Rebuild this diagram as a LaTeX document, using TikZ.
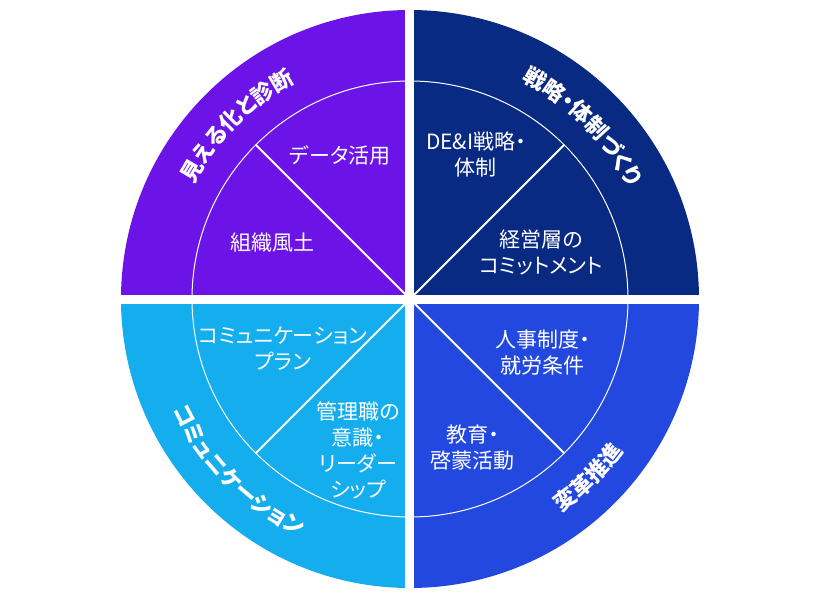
\documentclass[tikz,border=0pt]{standalone}
\usepackage{fontspec}
\usepackage{xcolor}
\usepackage{tikz}
\usetikzlibrary{decorations.text}
\newfontfamily\jpfont[RawFeature=+palt]{Noto Sans CJK JP}
\definecolor{qpurple}{RGB}{108,20,232}
\definecolor{qnavy}{RGB}{8,42,130}
\definecolor{qcyan}{RGB}{20,174,238}
\definecolor{qblue}{RGB}{34,72,224}

\begin{document}
\begin{tikzpicture}[x=1pt,y=1pt,
      item/.style={text=white,align=center,font=\jpfont\fontsize{21}{26}\selectfont},
      title/.style={decorate,decoration={text along path,text align=center,
                    text={|\jpfont\bfseries\fontsize{22}{22}\selectfont\color{white}|#1}}},
      gap/.style={white,line width=9pt},
      split/.style={white,line width=2pt}]
    \useasboundingbox (-410,-301) rectangle (410,299);
    \foreach \a/\c in {0/qnavy,90/qpurple,180/qcyan,270/qblue}
      \fill[\c] (0,0) -- (\a:289) arc[start angle=\a,delta angle=90,radius=289] -- cycle;
    \draw[white,line width=1pt] (0,0) circle[radius=218];
    \foreach \a in {45,135,225,315}
      \draw[split] (0,0) -- (\a:218);
    \draw[gap] (-295,0) -- (295,0);
    \draw[gap] (0,-295) -- (0,295);
    \node[item] (datause) at (-70,144) {データ活用};
    \node[item] (culture) at (-137,56) {組織風土};
    \node[item] (strategy) at (66,145) {DE\&I戦略・\\体制};
    \node[item] (commit) at (131,47) {経営層の\\コミットメント};
    \node[item] (plan) at (-127,-50) {コミュニケーション\\プラン};
    \node[item] (leader) at (-52,-151) {管理職の\\意識・\\リーダー\\シップ};
    \node[item] (hr) at (133,-54) {人事制度・\\就労条件};
    \node[item] (edu) at (63,-149) {教育・\\啓蒙活動};
    \path[title=見える化と診断] (175:245) arc[start angle=175,end angle=95,radius=245];
    \path[title=戦略・体制づくり] (85:245) arc[start angle=85,end angle=5,radius=245];
    \path[title=コミュニケーション] (185:262) arc[start angle=185,end angle=265,radius=262];
    \path[title=変革推進] (275:262) arc[start angle=275,end angle=355,radius=262];
  \end{tikzpicture}
\end{document}
